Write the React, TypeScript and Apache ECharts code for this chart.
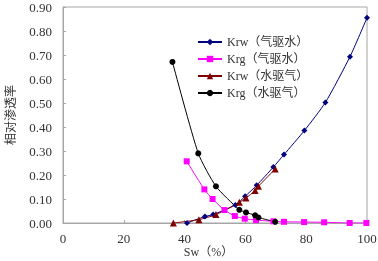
import React, { useEffect, useRef } from "react";
import * as echarts from "echarts";

const seriesNames = ["Krw（气驱水）", "Krg（气驱水）", "Krw（水驱气）", "Krg（水驱气）"];

const krwGasSw = [40.8, 46.7, 49.4, 56.7, 59.9, 63.7, 69.2, 72.7, 79.4, 86.3, 94.4, 100];
const krwGasVal = [0.0, 0.027, 0.035, 0.075, 0.111, 0.157, 0.233, 0.285, 0.385, 0.502, 0.693, 0.855];

const krgGasSw = [40.7, 46.5, 49.2, 53.1, 56.5, 59.8, 63.5, 69.2, 72.7, 79.3, 85.9, 94.3, 99.8];
const krgGasVal = [0.257, 0.14, 0.1, 0.054, 0.029, 0.018, 0.012, 0.007, 0.005, 0.004, 0.003, 0.0, 0.0];

const krwWaterSw = [36.3, 44.7, 50.3, 58.0, 60.2, 63.2, 64.3, 69.8];
const krwWaterVal = [0.0, 0.014, 0.035, 0.086, 0.104, 0.135, 0.153, 0.225];

const krgWaterSw = [36.0, 44.5, 50.3, 58.0, 60.2, 63.2, 64.3, 69.8];
const krgWaterVal = [0.671, 0.29, 0.153, 0.055, 0.044, 0.032, 0.023, 0.005];

const colors = ["#000080", "#FF00FF", "#800000", "#000000"];
const symbols = ["diamond", "rect", "triangle", "circle"];
const symbolSizes = [6, 6, 7, 6];

const zip = (xs: number[], ys: number[]) => xs.map((x, i) => [x, ys[i]]);

const FONT = "Liberation Serif, Noto Sans CJK SC, serif";

export default function App() {
  const ref = useRef<HTMLDivElement>(null);
  useEffect(() => {
    if (!ref.current) return;
    const chart = echarts.init(ref.current, null, { renderer: "svg" });
    const datasets = [
      zip(krwGasSw, krwGasVal),
      zip(krgGasSw, krgGasVal),
      zip(krwWaterSw, krwWaterVal),
      zip(krgWaterSw, krgWaterVal),
    ];
    chart.setOption({
      animation: false,
      textStyle: { fontFamily: FONT },
      grid: {
        left: 63,
        right: 11,
        top: 7,
        bottom: 38,
        show: true,
        borderColor: "#a6a6a6",
        borderWidth: 1,
        containLabel: false,
        outerBoundsMode: "none",
      },
      legend: {
        orient: "vertical",
        left: 192,
        top: 31,
        itemWidth: 24,
        itemHeight: 8,
        itemGap: 5,
        textStyle: { fontFamily: FONT, fontSize: 12, color: "#333" },
        data: seriesNames,
      },
      xAxis: {
        type: "value",
        min: 0,
        max: 100,
        interval: 20,
        name: "Sw（%）",
        nameLocation: "middle",
        nameGap: 23,
        nameMoveOverlap: false,
        nameTextStyle: {
          fontFamily: FONT,
          fontSize: 12,
          color: "#333",
          padding: [0, 13, 0, 0],
        },
        axisLine: { lineStyle: { color: "#a6a6a6" } },
        axisTick: { inside: true, length: 3, lineStyle: { color: "#a6a6a6" } },
        axisLabel: { fontFamily: FONT, fontSize: 13, color: "#333", margin: 9 },
        splitLine: { show: false },
      },
      yAxis: {
        type: "value",
        min: 0,
        max: 0.9,
        interval: 0.1,
        name: "相对渗透率",
        nameLocation: "middle",
        nameGap: 46,
        nameRotate: 90,
        nameMoveOverlap: false,
        nameTextStyle: { fontFamily: FONT, fontSize: 12, color: "#333" },
        axisLine: { show: true, lineStyle: { color: "#a6a6a6" } },
        axisTick: { show: true, inside: true, length: 3, lineStyle: { color: "#a6a6a6" } },
        axisLabel: {
          fontFamily: FONT,
          fontSize: 13,
          color: "#333",
          margin: 11,
          formatter: (v: number) => v.toFixed(2),
        },
        splitLine: { show: false },
      },
      series: seriesNames.map((name, i) => ({
        name,
        type: "line",
        data: datasets[i],
        smooth: 0.2,
        symbol: symbols[i],
        symbolSize: symbolSizes[i],
        showAllSymbol: true,
        lineStyle: { color: colors[i], width: 1 },
        itemStyle: { color: colors[i] },
      })),
    });
    return () => chart.dispose();
  }, []);
  return (
    <div
      ref={ref}
      style={{ position: "fixed", left: 0, top: 0, width: 378, height: 261 }}
    />
  );
}
